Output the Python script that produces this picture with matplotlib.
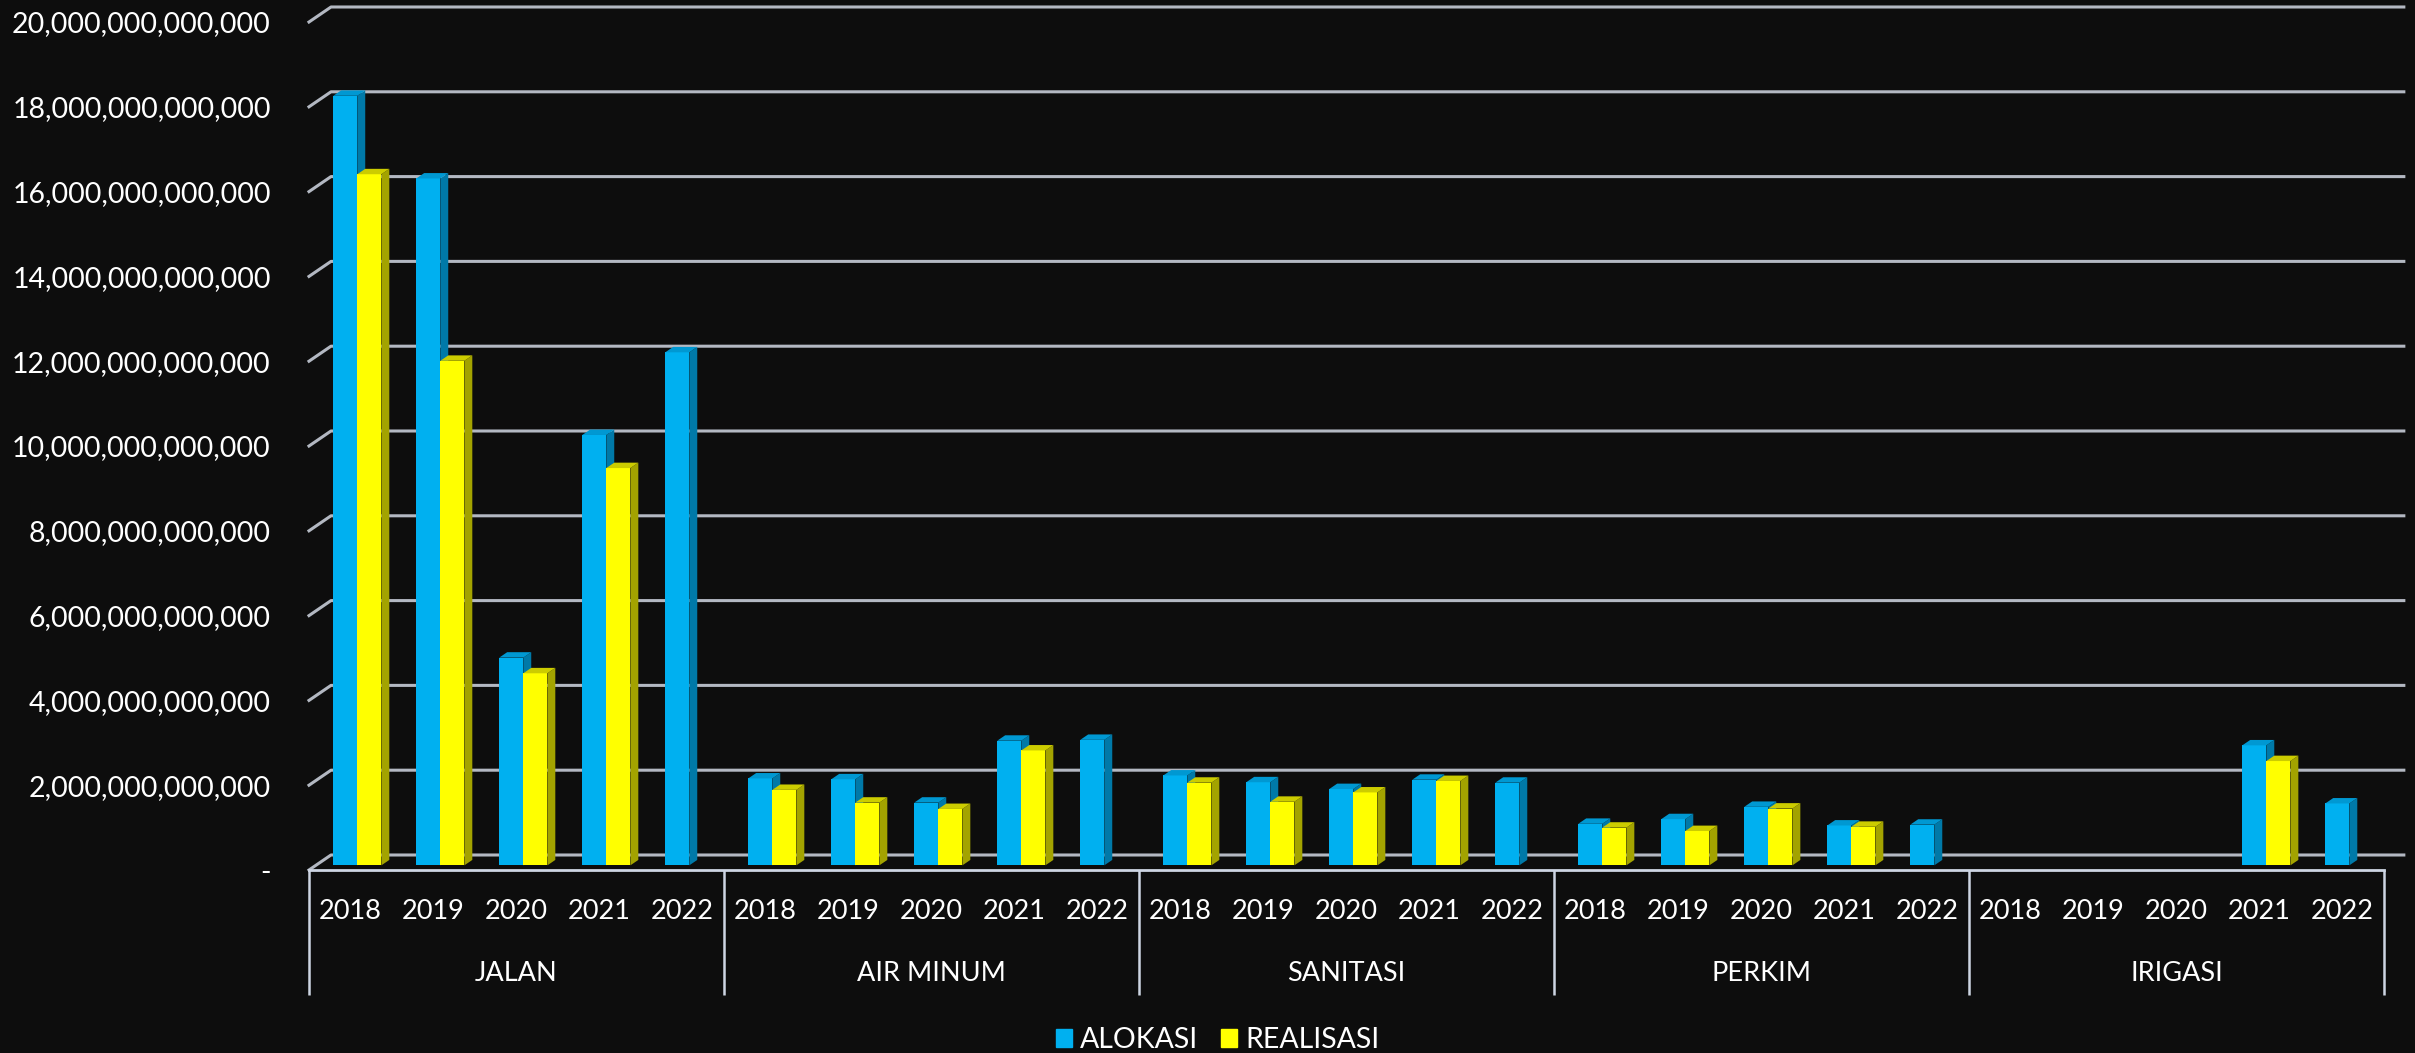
import numpy as np
import matplotlib
matplotlib.use('Agg')
import matplotlib.pyplot as plt
from matplotlib.patches import Polygon, Patch

plt.rcParams['font.family'] = ['Lato', 'DejaVu Sans']

T = 1e12  # values below are in trillions of rupiah

kategori = ['JALAN', 'AIR MINUM', 'SANITASI', 'PERKIM', 'IRIGASI']
tahun = [2018, 2019, 2020, 2021, 2022]

# None = no bar for that year
alokasi = [
    [18.15, 16.20, 4.90, 10.15, 12.10],
    [2.05, 2.03, 1.48, 2.94, 2.96],
    [2.12, 1.96, 1.80, 2.02, 1.95],
    [0.98, 1.09, 1.38, 0.94, 0.96],
    [None, None, None, 2.83, 1.46],
]
realisasi = [
    [16.30, 11.90, 4.53, 9.37, None],
    [1.78, 1.48, 1.33, 2.71, None],
    [1.95, 1.50, 1.72, 1.99, None],
    [0.89, 0.81, 1.34, 0.91, None],
    [None, None, None, 2.46, None],
]

BG = '#0d0d0d'
GRID = '#b3b8c2'
SEP = '#cdd5e3'
BLUE, BLUE_SIDE, BLUE_TOP = '#00b0f0', '#0079a8', '#0098d2'
YEL, YEL_SIDE, YEL_TOP = '#ffff00', '#a3a300', '#cccc00'

# fake 3D: oblique depth offset of the full floor, bar front/thickness as fraction of depth
DX, DY = 0.265, 0.354 * T
D0, DT = 0.31, 0.36
W = 0.29

fig = plt.figure(figsize=(24.15, 10.53), dpi=100, facecolor=BG)
ax = fig.add_axes([300 / 2415, 0, 2115 / 2415, 1])
ax.set_facecolor(BG)
ax.set_xlim(-0.1084, 25.373)
ax.set_ylim(-4.316 * T, 20.519 * T)
for s in ax.spines.values():
    s.set_visible(False)
ax.set_xticks([])

yt = np.arange(0, 21, 2) * T
ax.set_yticks(yt, labels=['-' if v == 0 else f'{int(v):,}' for v in yt])
ax.tick_params(axis='y', length=0, pad=21, labelsize=20.5, labelcolor='white')

n = len(kategori) * len(tahun)

# back wall gridlines with the short diagonal on the left wall
for v in yt:
    ax.plot([0, DX, n + DX * 0.9], [v, v + DY, v + DY], color=GRID, lw=2.2, zorder=1)

# floor front edge and category separators
ax.plot([0, n], [0, 0], color=SEP, lw=2, zorder=2)
ax.vlines(np.arange(0, n + 1, len(tahun)), -2.95 * T, 0, color=SEP, lw=1.8, zorder=2)


def bar3d(left, value, face, side, top):
    base = D0 * DY
    h = value * T
    ax.bar(left, h, width=W, bottom=base, align='edge', color=face, lw=0, zorder=3)
    xr, y1 = left + W, base + h
    ddx, ddy = DT * DX, DT * DY
    ax.add_patch(Polygon([(xr, base), (xr + ddx, base + ddy), (xr + ddx, y1 + ddy), (xr, y1)],
                         closed=True, fc=side, lw=0, zorder=3))
    ax.add_patch(Polygon([(left, y1), (xr, y1), (xr + ddx, y1 + ddy), (left + ddx, y1 + ddy)],
                         closed=True, fc=top, lw=0, zorder=3))


for g, nama in enumerate(kategori):
    for k, th in enumerate(tahun):
        xc = g * len(tahun) + k + 0.5
        c = xc + D0 * DX
        if alokasi[g][k] is not None:
            bar3d(c - W, alokasi[g][k], BLUE, BLUE_SIDE, BLUE_TOP)
        if realisasi[g][k] is not None:
            bar3d(c, realisasi[g][k], YEL, YEL_SIDE, YEL_TOP)
        ax.text(xc, -0.99 * T, str(th), ha='center', va='center', fontsize=19.5, color='white')
    ax.text(g * len(tahun) + len(tahun) / 2, -2.43 * T, nama, ha='center', va='center',
            fontsize=19.5, color='white')

fig.legend(handles=[Patch(color=BLUE, label='ALOKASI'), Patch(color=YEL, label='REALISASI')],
           loc='center', bbox_to_anchor=(1218 / 2415, 1 - 1040 / 1053), ncol=2, frameon=False,
           fontsize=20.5, labelcolor='white', handlelength=0.55, handleheight=0.55,
           handletextpad=0.3, columnspacing=0.8)

fig.savefig('out.png', dpi=100, facecolor=BG)
